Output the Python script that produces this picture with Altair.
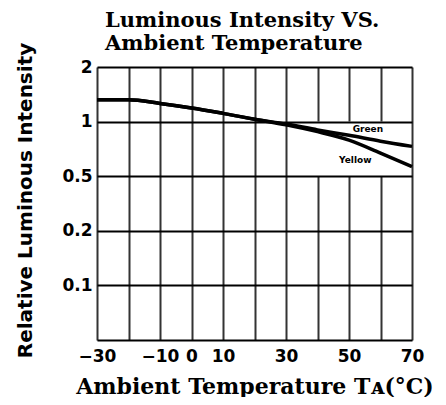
import altair as alt
import pandas as pd

temps = [-30, -20, -10, 0, 10, 20, 30, 40, 50, 60, 70]
green = [1.32, 1.32, 1.26, 1.19, 1.11, 1.03, 0.97, 0.90, 0.84, 0.78, 0.73]
yellow = [1.32, 1.32, 1.26, 1.19, 1.11, 1.03, 0.96, 0.88, 0.79, 0.67, 0.565]

y_ticks = [0.0625, 0.125, 0.25, 0.5, 1, 2]
x_ticks = [-30, -20, -10, 0, 10, 20, 30, 40, 50, 60, 70]

label_names = ["Green", "Yellow"]
label_t = [56, 52]
label_v = [0.91, 0.615]

rows = []
for t, g, yv in zip(temps, green, yellow):
    rows.append({"t": t, "v": g, "series": "Green"})
    rows.append({"t": t, "v": yv, "series": "Yellow"})
df = pd.DataFrame(rows)
labels = pd.DataFrame({"name": label_names, "t": label_t, "v": label_v})
mask = pd.DataFrame({"t": [31], "t2": [69.7], "v": [1.0], "v2": [0.5]})

FONT = "DejaVu Sans"
TFONT = "DejaVu Serif"

xscale = alt.Scale(domain=[-30, 70], nice=False, zero=False)
yscale = alt.Scale(type="log", base=2, domain=[0.0625, 2], nice=False)

xaxis = alt.Axis(
    values=x_ticks, grid=True, gridColor="#333", gridWidth=2, ticks=False, domain=False,
    labelExpr="indexof([-20,20,40,60], datum.value) >= 0 ? '' : datum.label",
    labelFlush=False, labelOverlap=False, labelBound=False,
    labelFont=FONT, labelFontWeight="bold", labelFontSize=17, labelColor="black",
    labelPadding=8,
    title="Ambient Temperature Tᴀ(°C)", titleFont=TFONT, titleFontWeight="bold",
    titleFontSize=22, titleColor="black", titleY=53, titleBaseline="alphabetic",
    zindex=0,
)
yaxis = alt.Axis(
    values=y_ticks, grid=True, gridColor="black", gridWidth=2, ticks=False, domain=False,
    labelExpr="datum.value == 2 ? '2' : datum.value == 1 ? '1' : datum.value == 0.5 ? '0.5' : datum.value == 0.25 ? '0.2' : datum.value == 0.125 ? '0.1' : ''",
    labelFont=FONT, labelFontWeight="bold", labelFontSize=17, labelColor="black",
    labelPadding=5, labelOverlap=False, labelFlush=False, labelBound=False,
    title="Relative Luminous Intensity", titleFont=FONT, titleFontWeight="bold",
    titleFontSize=20, titleColor="black", titleX=-72, titleY=133,
    titleAngle=-90, titleBaseline="middle", titleAlign="center",
    zindex=1,
)

X = alt.X("t:Q", scale=xscale, axis=xaxis)
Y = alt.Y("v:Q", scale=yscale, axis=yaxis)

rect = alt.Chart(mask).mark_rect(color="white").encode(x=X, x2="t2:Q", y=Y, y2="v2:Q")

lines = alt.Chart(df).mark_line(color="black", strokeWidth=3.5, interpolate="monotone").encode(
    x=X, y=Y, detail="series:N"
)

text = alt.Chart(labels).mark_text(font=FONT, fontWeight="bold", fontSize=9, color="black").encode(
    x=X, y=Y, text="name:N"
)

chart = alt.layer(rect, lines, text).properties(
    width=315, height=273,
    autosize=alt.AutoSizeParams(type="none"),
    padding={"left": 89, "top": 59, "right": 26, "bottom": 57},
    title=alt.Title(
        ["Luminous Intensity VS.", "Ambient Temperature"],
        anchor="start", frame="group", dx=8, dy=24, offset=12, font=TFONT, fontWeight="bold",
        fontSize=21, lineHeight=23, color="black",
    ),
).configure_view(stroke="black", strokeWidth=2).configure(background="white")

chart.save("out.html", embed_options={"renderer": "svg", "actions": False})
